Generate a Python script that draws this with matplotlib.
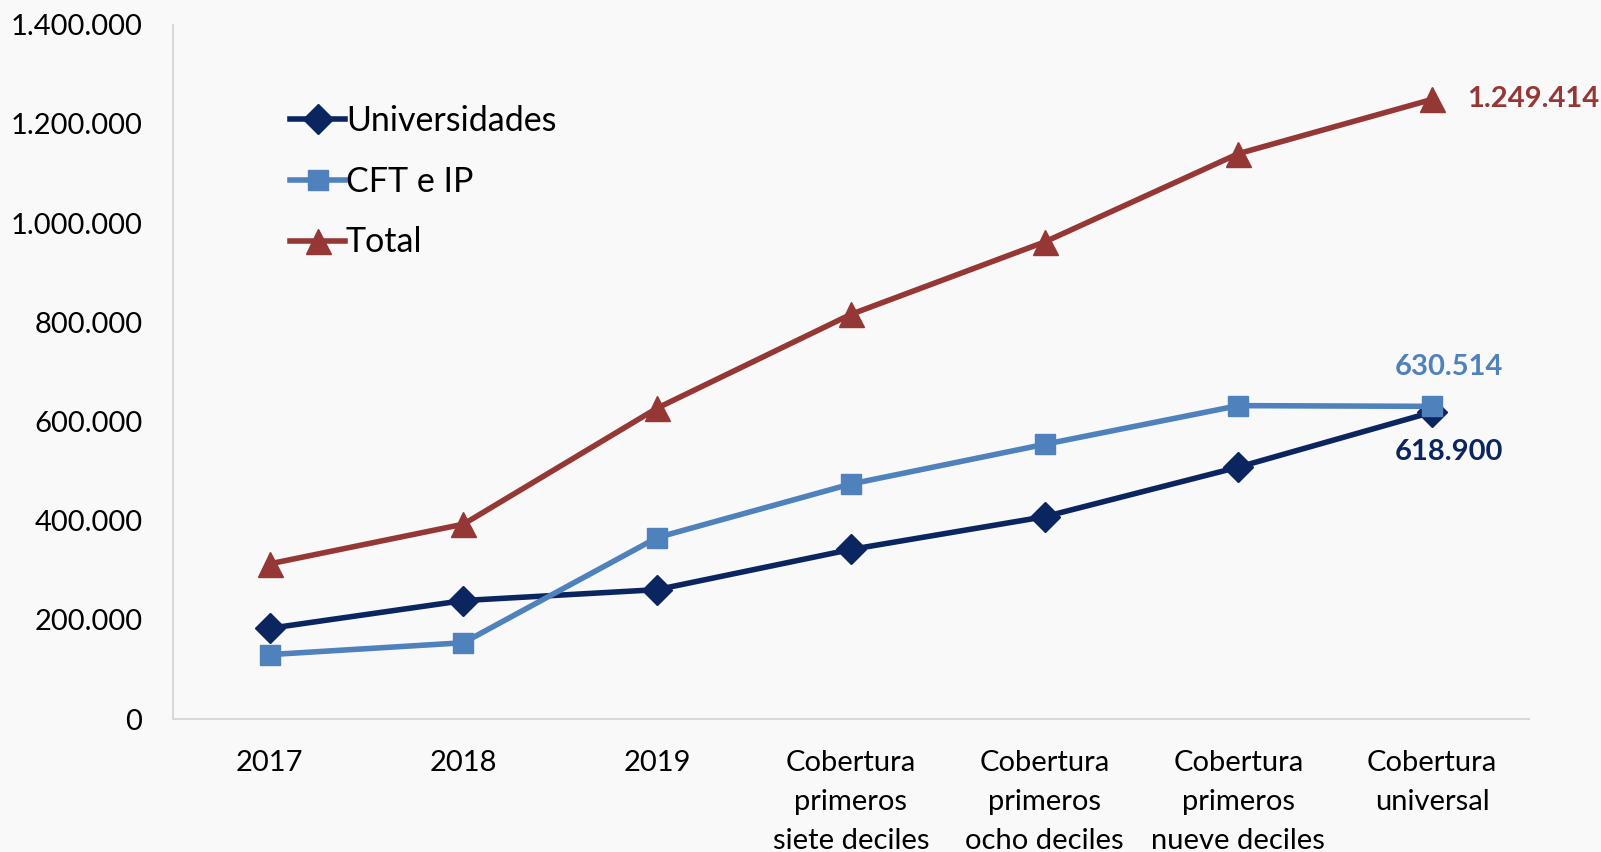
import matplotlib

matplotlib.use("Agg")
import matplotlib.pyplot as plt
from matplotlib.ticker import FuncFormatter

plt.rcParams["font.family"] = ["Lato", "DejaVu Sans"]

categories = [
    "2017",
    "2018",
    "2019",
    "Cobertura\nprimeros\nsiete deciles",
    "Cobertura\nprimeros\nocho deciles",
    "Cobertura\nprimeros\nnueve deciles",
    "Cobertura\nuniversal",
]
universidades = [183000, 239000, 261000, 342000, 408000, 508000, 618900]
cft_ip = [130000, 154000, 366000, 474000, 554000, 632000, 630514]
total = [313000, 393000, 627000, 816000, 962000, 1140000, 1249414]

C_UNI = "#0B2561"
C_CFT = "#4F81BD"
C_TOT = "#953735"
BG = "#F9F9F9"


def miles(v, _pos=None):
    return "{:,.0f}".format(v).replace(",", ".")


fig = plt.figure(figsize=(16.01, 8.52), dpi=100, facecolor=BG)
ax = fig.add_axes([0.108, 0.156, 0.847, 0.815], facecolor=BG)

x = list(range(len(categories)))
ax.plot(x, universidades, color=C_UNI, lw=4, marker="D", ms=15, label="Universidades")
ax.plot(x, cft_ip, color=C_CFT, lw=4, marker="s", ms=15, label="CFT e IP")
ax.plot(x, total, color=C_TOT, lw=4, marker="^", ms=18, label="Total")

ax.set_xlim(-0.5, len(categories) - 0.5)
ax.set_ylim(0, 1400000)
ax.set_yticks(range(0, 1400001, 200000))
ax.yaxis.set_major_formatter(FuncFormatter(miles))
ax.set_xticks(x)
ax.set_xticklabels(categories, linespacing=1.62)
ax.tick_params(axis="y", length=0, pad=22, labelsize=21)
ax.tick_params(axis="x", length=0, pad=22, labelsize=21)

for s in ("top", "right"):
    ax.spines[s].set_visible(False)
for s in ("left", "bottom"):
    ax.spines[s].set_color("#D9D9D9")
    ax.spines[s].set_linewidth(1.5)

last = len(categories) - 1
ax.annotate(miles(total[last]), (last, total[last]), xytext=(25, 0),
            textcoords="offset points", ha="left", va="center",
            color=C_TOT, fontsize=21, fontweight="bold")
ax.annotate(miles(cft_ip[last]), (last, cft_ip[last]), xytext=(12, 28),
            textcoords="offset points", ha="center", va="center",
            color=C_CFT, fontsize=21, fontweight="bold")
ax.annotate(miles(universidades[last]), (last, universidades[last]), xytext=(12, -29),
            textcoords="offset points", ha="center", va="center",
            color=C_UNI, fontsize=21, fontweight="bold")

ax.legend(loc="upper left", bbox_to_anchor=(0.064, 0.928), frameon=False,
          fontsize=24.5, handlelength=1.6, handletextpad=0.03, labelspacing=0.84,
          markerscale=1.0)

fig.savefig("out.png", dpi=100, facecolor=BG)
